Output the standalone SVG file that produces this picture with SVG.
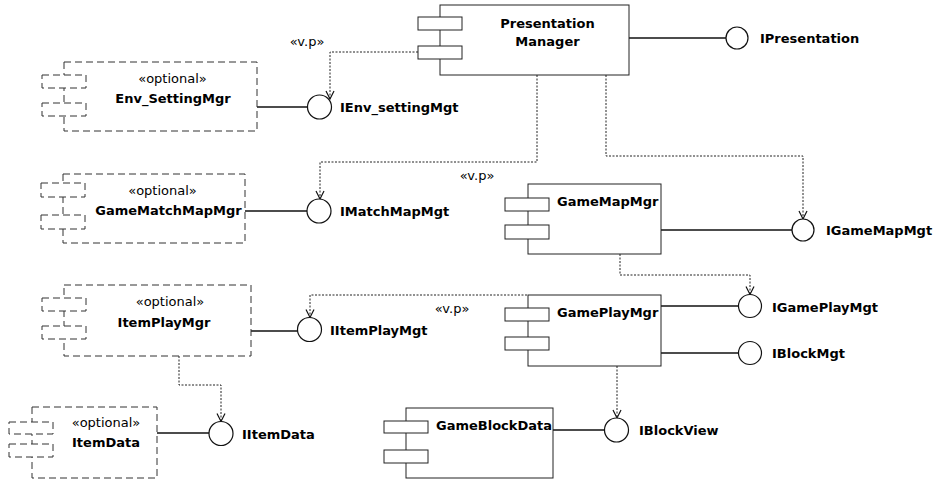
<svg xmlns="http://www.w3.org/2000/svg" width="936" height="481" viewBox="0 0 936 481">
<defs>
<style>
.body{fill:#fff;stroke:#222;stroke-width:1}
.opt{fill:#fff;stroke:#333;stroke-width:1;stroke-dasharray:7,4}
.port{fill:#fff;stroke:#222;stroke-width:1}
.oport{fill:#fff;stroke:#333;stroke-width:1;stroke-dasharray:7,4}
.iface{fill:#fff;stroke:#111;stroke-width:1.2}
.solid{fill:none;stroke:#111;stroke-width:1.6}
.dep{fill:none;stroke:#222;stroke-width:1;stroke-dasharray:2,1.5}
.name{font-family:"DejaVu Sans",Verdana,sans-serif;font-weight:bold;font-size:13px;fill:#000}
.stereo{font-family:"DejaVu Sans",Verdana,sans-serif;font-size:13px;fill:#000}
.lbl{font-family:"DejaVu Sans",Verdana,sans-serif;font-weight:bold;font-size:13px;fill:#000}
</style>
<marker id="open" viewBox="-10 -6 12 12" refX="0" refY="0" markerWidth="12" markerHeight="12" markerUnits="userSpaceOnUse" orient="auto">
<path d="M-8,-4 L0,0 L-8,4" fill="none" stroke="#111" stroke-width="1.2"/>
</marker>
</defs>
<rect width="936" height="481" fill="#fff"/>

<g id="connectors">
<line class="solid" x1="629" y1="38" x2="726" y2="38"/>
<line class="solid" x1="257" y1="107" x2="307.5" y2="107"/>
<line class="solid" x1="245" y1="211" x2="307" y2="211"/>
<line class="solid" x1="661" y1="230" x2="792" y2="230"/>
<line class="solid" x1="661" y1="306" x2="738.5" y2="306"/>
<line class="solid" x1="661" y1="353" x2="738.5" y2="353"/>
<line class="solid" x1="251" y1="331" x2="297.5" y2="331"/>
<line class="solid" x1="157" y1="433" x2="209" y2="433"/>
<line class="solid" x1="553" y1="430" x2="604.5" y2="430"/>
<polyline class="dep" points="418,52 330,52 330,99" marker-end="url(#open)"/>
<polyline class="dep" points="537,75 537,162 320,162 320,199" marker-end="url(#open)"/>
<polyline class="dep" points="606,75 606,156 803,156 803,219" marker-end="url(#open)"/>
<polyline class="dep" points="620,254 620,275 750,275 750,294.5" marker-end="url(#open)"/>
<polyline class="dep" points="527,295 310,295 310,317.5" marker-end="url(#open)"/>
<polyline class="dep" points="179,356 179,385 221,385 221,421.5" marker-end="url(#open)"/>
<polyline class="dep" points="617,366 617,418" marker-end="url(#open)"/>
<text class="stereo" x="307" y="46" text-anchor="middle">«v.p»</text>
<text class="stereo" x="477" y="180" text-anchor="middle">«v.p»</text>
<text class="stereo" x="452" y="313" text-anchor="middle">«v.p»</text>
</g>

<g id="PresentationManager">
<rect class="body" x="440" y="5" width="189" height="70"/>
<rect class="port" x="418" y="17" width="44" height="13"/>
<rect class="port" x="418" y="46" width="44" height="13"/>
<text class="name" x="547.5" y="28" text-anchor="middle">Presentation</text>
<text class="name" x="547.5" y="46" text-anchor="middle">Manager</text>
</g>

<g id="Env_SettingMgr">
<rect class="opt" x="64" y="62" width="193" height="69"/>
<rect class="oport" x="42" y="75" width="44" height="13"/>
<rect class="oport" x="42" y="103" width="44" height="13"/>
<text class="stereo" x="172.5" y="83" text-anchor="middle">«optional»</text>
<text class="name" x="173" y="103" text-anchor="middle">Env_SettingMgr</text>
</g>

<g id="GameMatchMapMgr">
<rect class="opt" x="63" y="174" width="182" height="69"/>
<rect class="oport" x="41" y="183" width="44" height="14"/>
<rect class="oport" x="41" y="215" width="44" height="14"/>
<text class="stereo" x="162.5" y="195" text-anchor="middle">«optional»</text>
<text class="name" x="168.5" y="215" text-anchor="middle">GameMatchMapMgr</text>
</g>

<g id="GameMapMgr">
<rect class="body" x="528" y="184" width="133" height="70"/>
<rect class="port" x="505" y="198" width="44" height="13"/>
<rect class="port" x="505" y="225" width="44" height="14"/>
<text class="name" x="557" y="206">GameMapMgr</text>
</g>

<g id="ItemPlayMgr">
<rect class="opt" x="64" y="285" width="187" height="71"/>
<rect class="oport" x="42" y="298" width="44" height="13"/>
<rect class="oport" x="42" y="326" width="44" height="13"/>
<text class="stereo" x="170" y="306" text-anchor="middle">«optional»</text>
<text class="name" x="164" y="327" text-anchor="middle">ItemPlayMgr</text>
</g>

<g id="GamePlayMgr">
<rect class="body" x="528" y="295" width="133" height="71"/>
<rect class="port" x="505" y="308" width="44" height="13"/>
<rect class="port" x="505" y="337" width="44" height="13"/>
<text class="name" x="557" y="317">GamePlayMgr</text>
</g>

<g id="ItemData">
<rect class="opt" x="32" y="407" width="125" height="71"/>
<rect class="oport" x="9" y="422" width="44" height="12"/>
<rect class="oport" x="9" y="444" width="44" height="13"/>
<text class="stereo" x="106" y="427" text-anchor="middle">«optional»</text>
<text class="name" x="106" y="447" text-anchor="middle">ItemData</text>
</g>

<g id="GameBlockData">
<rect class="body" x="406" y="408" width="147" height="70"/>
<rect class="port" x="384" y="421" width="44" height="12"/>
<rect class="port" x="384" y="450" width="44" height="13"/>
<text class="name" x="436" y="430" font-size="12.5">GameBlockData</text>
</g>

<g id="IPresentation">
<circle class="iface" cx="737" cy="38" r="11"/>
<text class="lbl" x="760" y="43">IPresentation</text>
</g>
<g id="IEnv_settingMgt">
<circle class="iface" cx="319.5" cy="107" r="12"/>
<text class="lbl" x="340" y="112">IEnv_settingMgt</text>
</g>
<g id="IMatchMapMgt">
<circle class="iface" cx="319" cy="211" r="12"/>
<text class="lbl" x="340" y="216">IMatchMapMgt</text>
</g>
<g id="IGameMapMgt">
<circle class="iface" cx="803" cy="230" r="11"/>
<text class="lbl" x="826" y="235">IGameMapMgt</text>
</g>
<g id="IGamePlayMgt">
<circle class="iface" cx="750" cy="306" r="11.5"/>
<text class="lbl" x="772" y="312">IGamePlayMgt</text>
</g>
<g id="IBlockMgt">
<circle class="iface" cx="750" cy="353" r="11.5"/>
<text class="lbl" x="772" y="358">IBlockMgt</text>
</g>
<g id="IItemPlayMgt">
<circle class="iface" cx="309.5" cy="329.5" r="12"/>
<text class="lbl" x="330" y="335">IItemPlayMgt</text>
</g>
<g id="IItemData">
<circle class="iface" cx="221" cy="433.5" r="12"/>
<text class="lbl" x="242" y="439">IItemData</text>
</g>
<g id="IBlockView">
<circle class="iface" cx="616.5" cy="430" r="12"/>
<text class="lbl" x="639" y="435">IBlockView</text>
</g>
</svg>
